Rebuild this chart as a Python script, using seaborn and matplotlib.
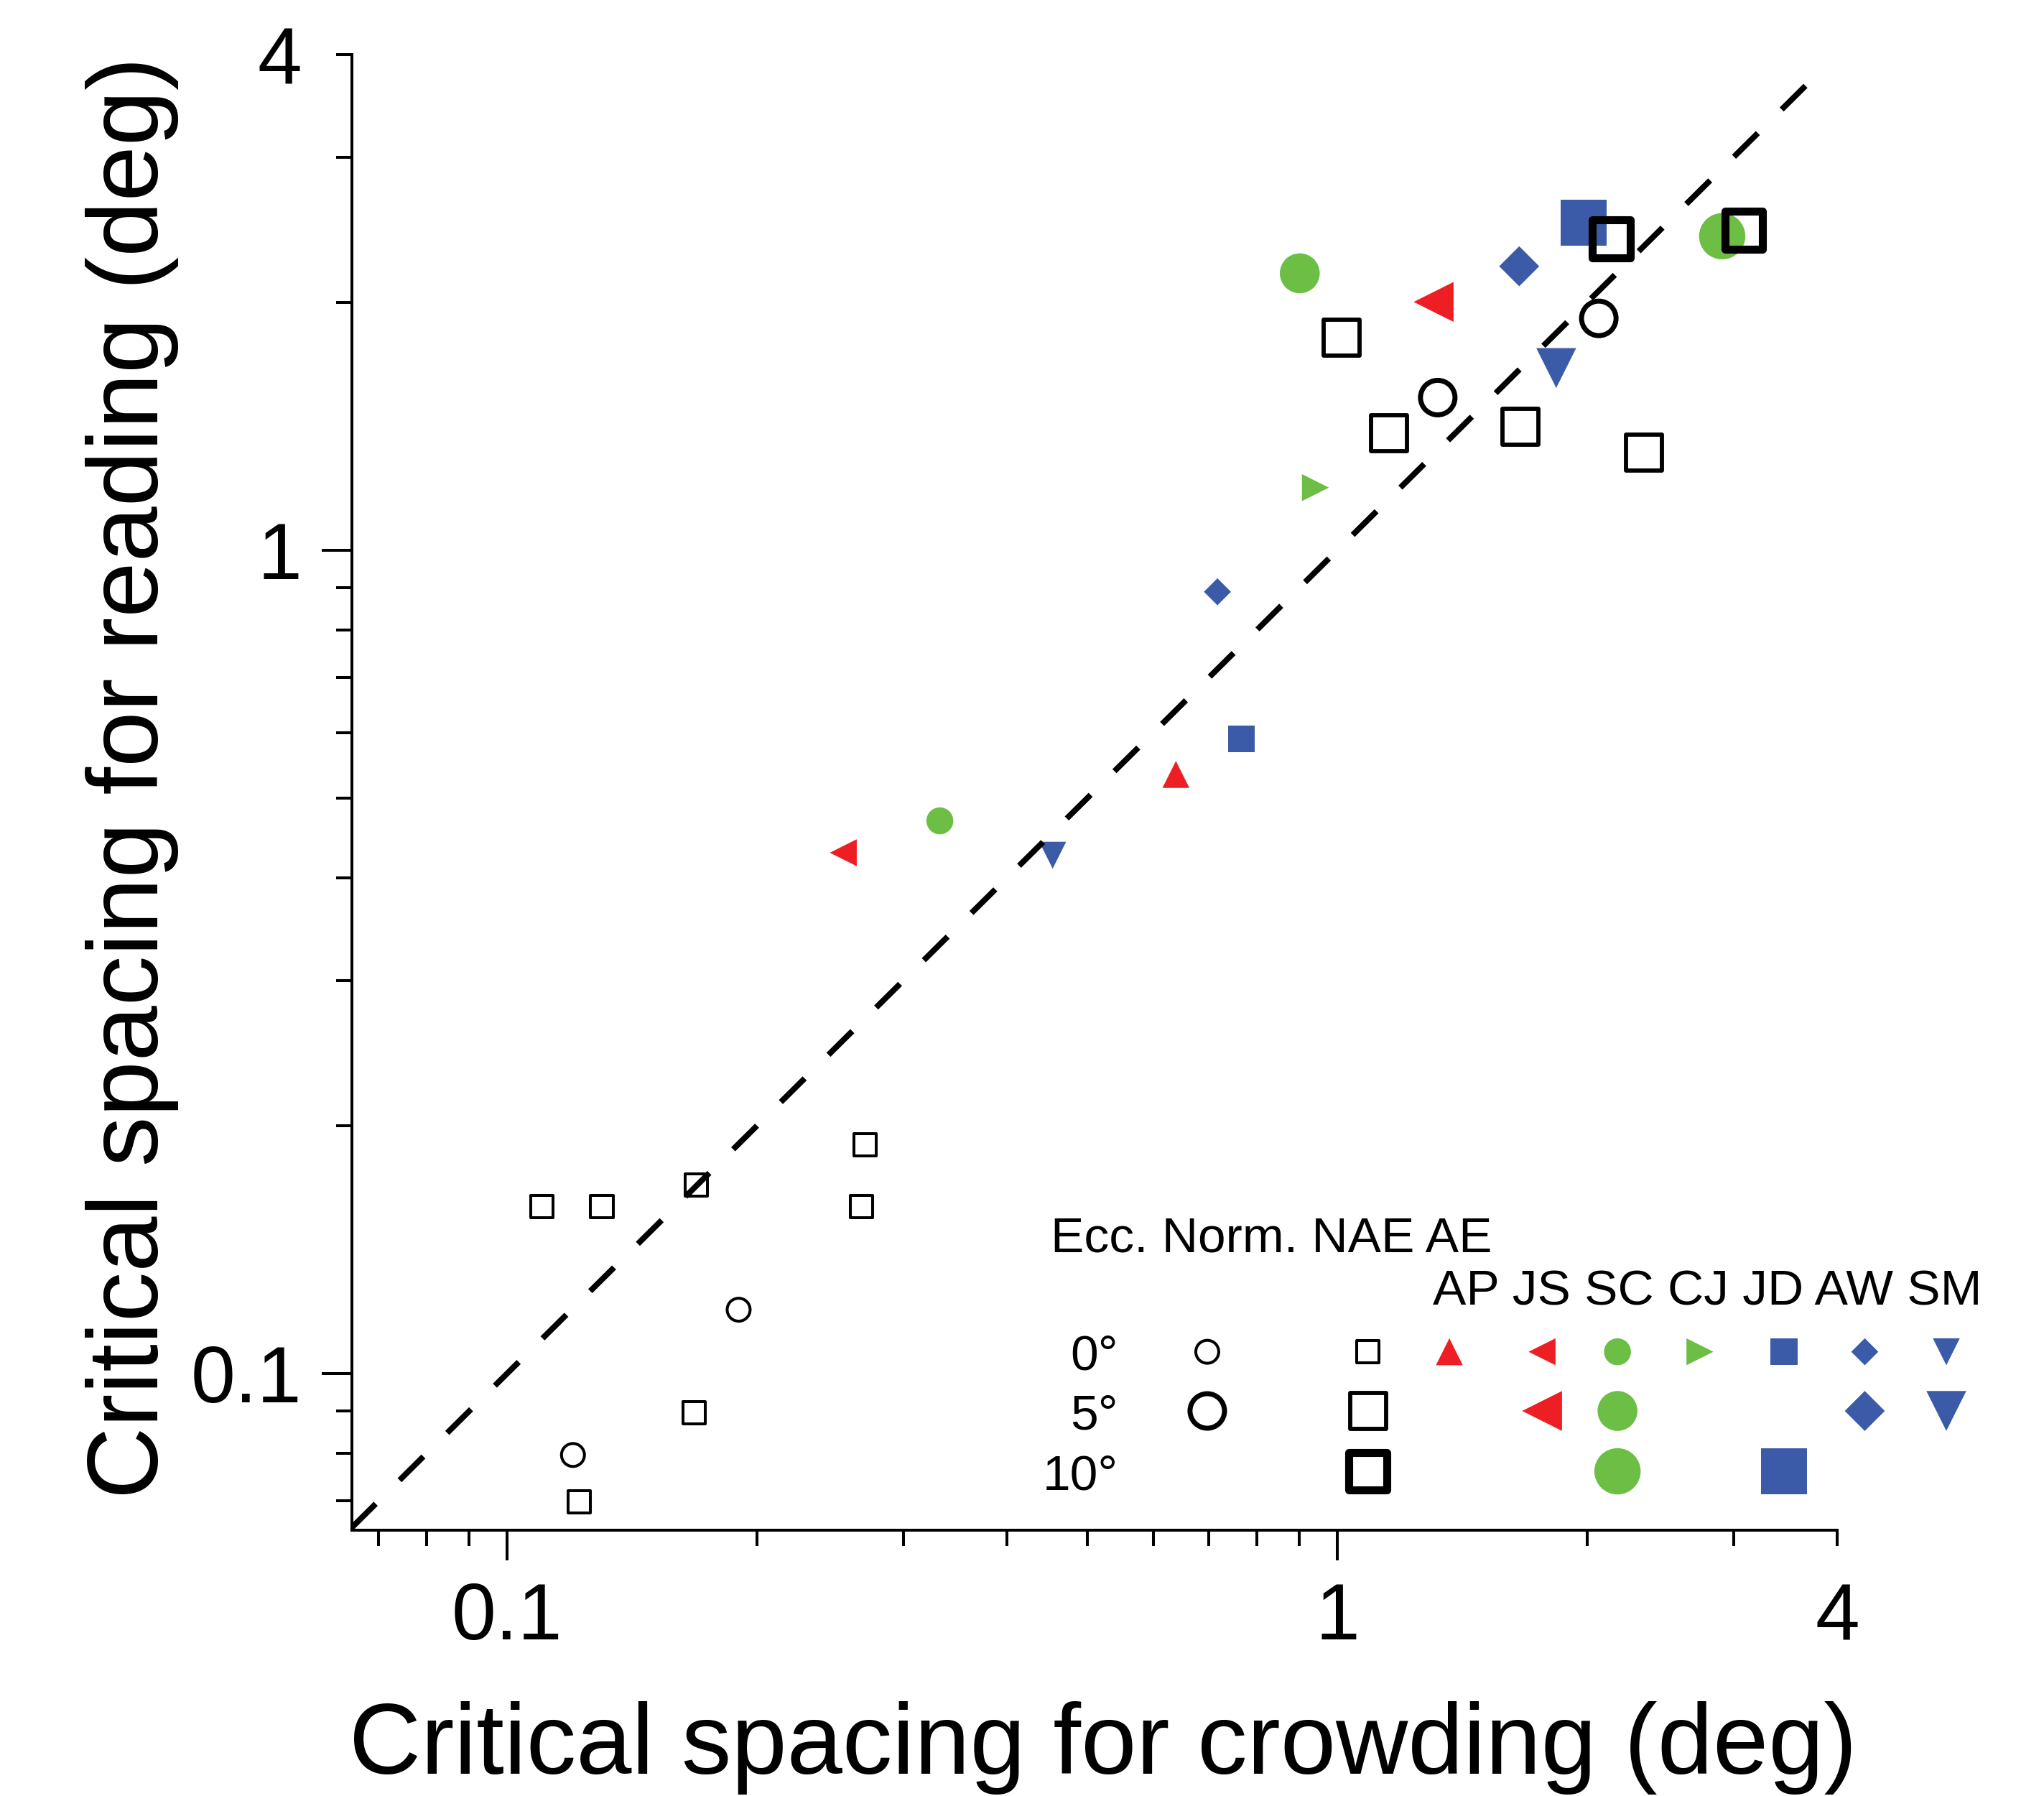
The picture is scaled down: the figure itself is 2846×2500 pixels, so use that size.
import numpy as np
import pandas as pd
import matplotlib
matplotlib.use("Agg")
import matplotlib.pyplot as plt
import seaborn as sns
from matplotlib.ticker import FixedLocator, FixedFormatter, NullFormatter

# ---------------- data ----------------
# Normal (uncrowded) observers, open circles
norm_ecc = [0, 0, 5, 5]
norm_x = [0.190, 0.120, 1.321, 2.065]
norm_y = [0.1195, 0.0796, 1.532, 1.912]

# NAE (normal adult eyes), open squares
nae_ecc = [0, 0, 0, 0, 0, 0, 0, 5, 5, 5, 5, 10, 10]
nae_x = [0.110, 0.130, 0.169, 0.270, 0.267, 0.168, 0.122, 1.011, 1.154, 1.660, 2.341, 2.138, 3.088]
nae_y = [0.1595, 0.1595, 0.1694, 0.1894, 0.1595, 0.0896, 0.0698, 1.810, 1.388, 1.412, 1.313, 2.388, 2.445]

# AE (amblyopic eyes), filled symbols per subject
ae_subject = ["AP", "JS", "JS", "SC", "SC", "SC", "CJ", "JD", "JD", "AW", "AW", "SM", "SM"]
ae_ecc = [0, 0, 5, 0, 5, 10, 0, 0, 10, 0, 5, 0, 5]
ae_x = [0.639, 0.254, 1.306, 0.332, 0.901, 2.908, 0.941, 0.766, 1.979, 0.717, 1.656, 0.454, 1.835]
ae_y = [0.534, 0.429, 2.002, 0.469, 2.169, 2.406, 1.191, 0.590, 2.498, 0.890, 2.212, 0.426, 1.664]

subjects = ["AP", "JS", "SC", "CJ", "JD", "AW", "SM"]
eccentricities = [0, 5, 10]
major_ticks = [0.1, 1, 4]
major_labels = ["0.1", "1", "4"]
minor_ticks = [0.07, 0.08, 0.09, 0.2, 0.3, 0.4, 0.5, 0.6, 0.7, 0.8, 0.9, 2, 3]
identity_range = [0.065, 3.8]

xlabel = "Critical spacing for crowding (deg)"
ylabel = "Critical spacing for reading (deg)"
legend_header1 = "Ecc. Norm. NAE AE"
legend_header2 = "AP JS SC CJ JD AW SM"
ecc_labels = {0: "0°", 5: "5°", 10: "10°"}

# ---------------- styles ----------------
RED = "#ED1F24"
GREEN = "#6CBE45"
BLUE = "#3B5BA8"
subj_color = {"AP": RED, "JS": RED, "SC": GREEN, "CJ": GREEN, "JD": BLUE, "AW": BLUE, "SM": BLUE}
subj_marker = {"AP": "^", "JS": "<", "SC": "o", "CJ": ">", "JD": "s", "AW": "D", "SM": "v"}
filled_size = {0: 13.5, 5: 20.0, 10: 23.2}          # marker size (pt)
marker_scale = {"D": 0.71}
open_style = {("Norm", 0): ("o", 11.5, 1.45), ("Norm", 5): ("o", 17.3, 2.5),
              ("NAE", 0): ("s", 11.2, 1.45), ("NAE", 5): ("s", 18.0, 2.1),
              ("NAE", 10): ("s", 19.0, 4.0)}

sns.set_theme(style="ticks")
plt.rcParams["font.family"] = ["Liberation Sans", "DejaVu Sans"]
plt.rcParams["axes.linewidth"] = 1.45
plt.rcParams["axes.edgecolor"] = "black"
plt.rcParams["axes.labelcolor"] = "black"
plt.rcParams["text.color"] = "black"
plt.rcParams["xtick.color"] = "black"
plt.rcParams["ytick.color"] = "black"

DPI = 200
fig = plt.figure(figsize=(2846 / DPI, 2500 / DPI), dpi=DPI)
ax = fig.add_axes([490 / 2846, 1 - 2130 / 2500, 2068 / 2846, 2054.2 / 2500])
ax.set_xscale("log")
ax.set_yscale("log")

ae_df = pd.DataFrame({"x": ae_x, "y": ae_y, "subject": ae_subject, "ecc": ae_ecc})
norm_df = pd.DataFrame({"x": norm_x, "y": norm_y, "ecc": norm_ecc})
nae_df = pd.DataFrame({"x": nae_x, "y": nae_y, "ecc": nae_ecc})

# filled AE symbols
for (subj, ecc), sub in ae_df.groupby(["subject", "ecc"]):
    m = subj_marker[subj]
    ms = filled_size[ecc] * marker_scale.get(m, 1.0)
    sns.scatterplot(data=sub, x="x", y="y", ax=ax, marker=m, s=ms ** 2,
                    color=subj_color[subj], edgecolor="none", linewidth=0,
                    legend=False, zorder=2)

# identity line
ax.plot(identity_range, identity_range, color="black", lw=2.9, dashes=(5.8, 5.8),
        solid_capstyle="butt", dash_capstyle="butt", zorder=3)

# open symbols
for name, df in [("Norm", norm_df), ("NAE", nae_df)]:
    for ecc, sub in df.groupby("ecc"):
        m, ms, lw = open_style[(name, ecc)]
        sns.scatterplot(data=sub, x="x", y="y", ax=ax, marker=m, s=ms ** 2,
                        facecolor="none", edgecolor="black", linewidth=lw,
                        legend=False, zorder=4)

# axes formatting
ax.set_xlim(0.065, 4)
ax.set_ylim(0.0645, 4)
for axis in (ax.xaxis, ax.yaxis):
    axis.set_major_locator(FixedLocator(major_ticks))
    axis.set_major_formatter(FixedFormatter(major_labels))
    axis.set_minor_locator(FixedLocator(minor_ticks))
    axis.set_minor_formatter(NullFormatter())
sns.despine(ax=ax)
ax.tick_params(axis="both", which="major", direction="out", length=15.1, width=1.45,
               labelsize=40, colors="black")
ax.tick_params(axis="both", which="minor", direction="out", length=7.9, width=1.45,
               colors="black")
ax.tick_params(axis="x", which="major", pad=10.5)
ax.tick_params(axis="y", which="major", pad=10)
for axis in (ax.xaxis, ax.yaxis):
    t = axis.get_major_ticks()
    t[2].tick1line.set_markersize(7.9)

ax.set_xlabel(xlabel, fontsize=50, color="black")
ax.set_ylabel(ylabel, fontsize=50, color="black")
ax.xaxis.label.set_va("baseline")
ax.yaxis.label.set_va("baseline")
ax.xaxis.set_label_coords(0.5058, (2130 - 2469) / 2054.2)
ax.yaxis.set_label_coords((220 - 490) / 2068, 0.5102)

# ---------------- legend grid ----------------
col_x = {"Norm": 0.5759, "NAE": 0.6841, "AP": 0.7389, "JS": 0.8013, "SC": 0.8521,
         "CJ": 0.9076, "JD": 0.9642, "AW": 1.0186, "SM": 1.0735}
row_y = {0: 0.1209, 5: 0.0808, 10: 0.0399}
row_baseline = {0: 0.1087, 5: 0.0686, 10: 0.0277}

ax.text(0.4704, 0.1884, legend_header1, transform=ax.transAxes, fontsize=25,
        ha="left", va="baseline", color="black")
ax.text(0.7278, 0.1525, legend_header2, transform=ax.transAxes, fontsize=25,
        ha="left", va="baseline", color="black")
for ecc in eccentricities:
    ax.text(0.516, row_baseline[ecc], ecc_labels[ecc], transform=ax.transAxes,
            fontsize=25, ha="right", va="baseline", color="black")

for (name, ecc), (m, ms, lw) in open_style.items():
    ax.scatter([col_x[name]], [row_y[ecc]], transform=ax.transAxes, marker=m,
               s=ms ** 2, facecolor="none", edgecolor="black", linewidth=lw,
               clip_on=False, zorder=4)
for subj, ecc in sorted(set(zip(ae_subject, ae_ecc))):
    m = subj_marker[subj]
    ms = filled_size[ecc] * marker_scale.get(m, 1.0)
    ax.scatter([col_x[subj]], [row_y[ecc]], transform=ax.transAxes, marker=m,
               s=ms ** 2, color=subj_color[subj], edgecolor="none",
               clip_on=False, zorder=2)

fig.savefig("out.png", dpi=DPI, facecolor="white")
